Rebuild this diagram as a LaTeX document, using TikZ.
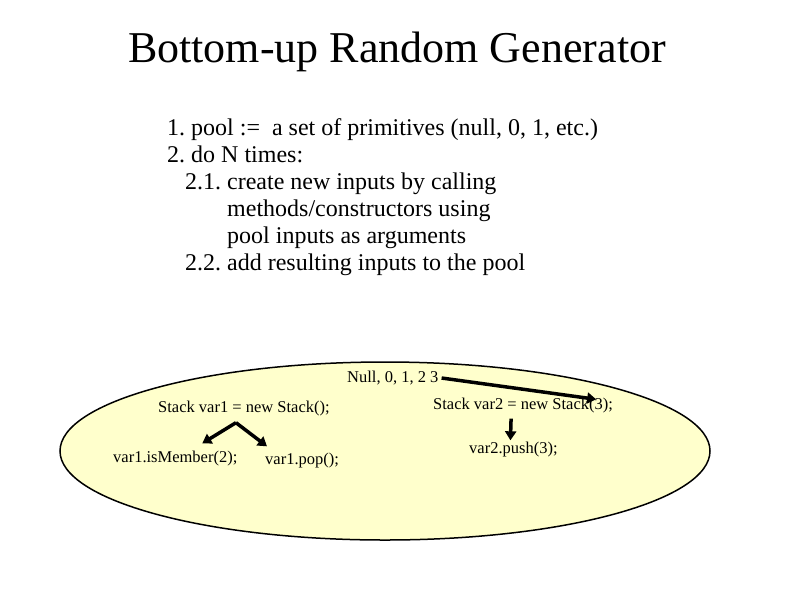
\documentclass[tikz,border=0pt]{standalone}
\usepackage{fontspec}
\setmainfont{Liberation Serif}
\usetikzlibrary{arrows.meta,positioning}
\definecolor{poolfill}{HTML}{FFFFCC}
\tikzset{
  code/.style={font=\fontsize{16.5}{18}\selectfont,inner sep=0pt},
  thick arrow/.style={line width=3.5pt,-{Triangle[length=9pt,width=11pt]}}
}
\frenchspacing
\begin{document}
\begin{tikzpicture}[x=1pt,y=-1pt]
  \useasboundingbox (0,0) rectangle (794,595);
  \node[font=\fontsize{44}{50}\selectfont] (title) at (397,52) {Bottom-up Random Generator};
  \node[font=\fontsize{24}{27}\selectfont,align=left,anchor=north west,inner sep=0pt] (algo) at (167,118)
    {1. pool :=\ \ a set of primitives (null, 0, 1, etc.)\\
     2. do N times:\\
     \hspace*{18pt}2.1. create new inputs by calling\\
     \hspace*{60pt}methods/constructors using\\
     \hspace*{60pt}pool inputs as arguments\\
     \hspace*{18pt}2.2. add resulting inputs to the pool};
  % the pool
  \draw[line width=1.5pt,fill=poolfill] (385,451) ellipse [x radius=325,y radius=89];
  \node[code,anchor=west] (prims) at (347,378) {Null, 0, 1, 2 3};
  \node[code,anchor=west] (v1) at (158,409) {Stack var1 = new Stack();};
  \node[code,anchor=west] (ism) at (113,459) {var1.isMember(2);};
  \node[code,anchor=west] (pop) at (265,461) {var1.pop();};
  \node[code,anchor=west] (v2) at (433,406) {Stack var2 = new Stack(3);};
  \node[code,anchor=west] (push) at (469,450) {var2.push(3);};
  \coordinate (fork) at ([xshift=-8pt,yshift=-6pt]v1.south);
  \draw[thick arrow] ([xshift=3pt]prims.east) -- ([xshift=-17pt,yshift=-1pt]v2.north east);
  \draw[thick arrow] (fork) -- ([xshift=27pt,yshift=8pt]ism.north);
  \draw[thick arrow] (fork) -- ([xshift=2pt,yshift=7pt]pop.north west);
  \draw[thick arrow] ([xshift=-12pt,yshift=-5pt]v2.south) -- ([xshift=-3pt,yshift=2pt]push.north);
\end{tikzpicture}
\end{document}
